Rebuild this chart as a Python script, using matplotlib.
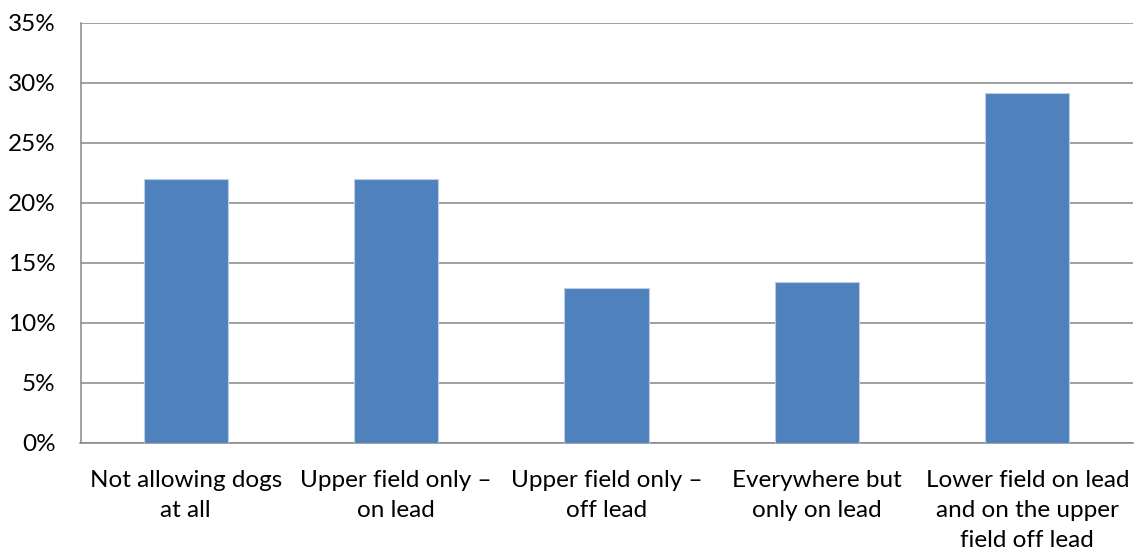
import matplotlib
matplotlib.use("Agg")
import matplotlib.pyplot as plt
from matplotlib.ticker import FuncFormatter, MultipleLocator

# --- data ---
categories = [
    "Not allowing dogs\nat all",
    "Upper field only \u2013\non lead",
    "Upper field only \u2013\noff lead",
    "Everywhere but\nonly on lead",
    "Lower field on lead\nand on the upper\nfield off lead",
]
shares = [22.0, 22.0, 12.85, 13.4, 29.15]

plt.rcParams['font.family'] = ['Lato', 'DejaVu Sans']

fig = plt.figure(figsize=(11.4, 5.57), dpi=100)
ax = fig.add_axes([80.5 / 1140, 1 - 442.5 / 557, 1052 / 1140, 420 / 557])

x = range(len(categories))
ax.bar(x, shares, width=0.4, color='#4F81BD', edgecolor='#B9CDE5', linewidth=0.8, zorder=3)

ax.set_xlim(-0.5, len(categories) - 0.5)
ax.set_ylim(0, 35)
ax.yaxis.set_major_locator(MultipleLocator(5))
ax.yaxis.set_major_formatter(FuncFormatter(lambda v, p: f"{v:.0f}%"))
ax.grid(axis='y', color='#868686', linewidth=1.1, zorder=0)

ax.set_xticks(list(x))
ax.set_xticklabels(categories, fontsize=17.5, linespacing=1.52)
ax.tick_params(axis='x', length=0, pad=20)
ax.tick_params(axis='y', length=0, pad=18, labelsize=17.5)

for s in ['top', 'right']:
    ax.spines[s].set_visible(False)
for s in ['left', 'bottom']:
    ax.spines[s].set_color('#868686')
    ax.spines[s].set_linewidth(1.1)

fig.savefig("out.png", dpi=100)
